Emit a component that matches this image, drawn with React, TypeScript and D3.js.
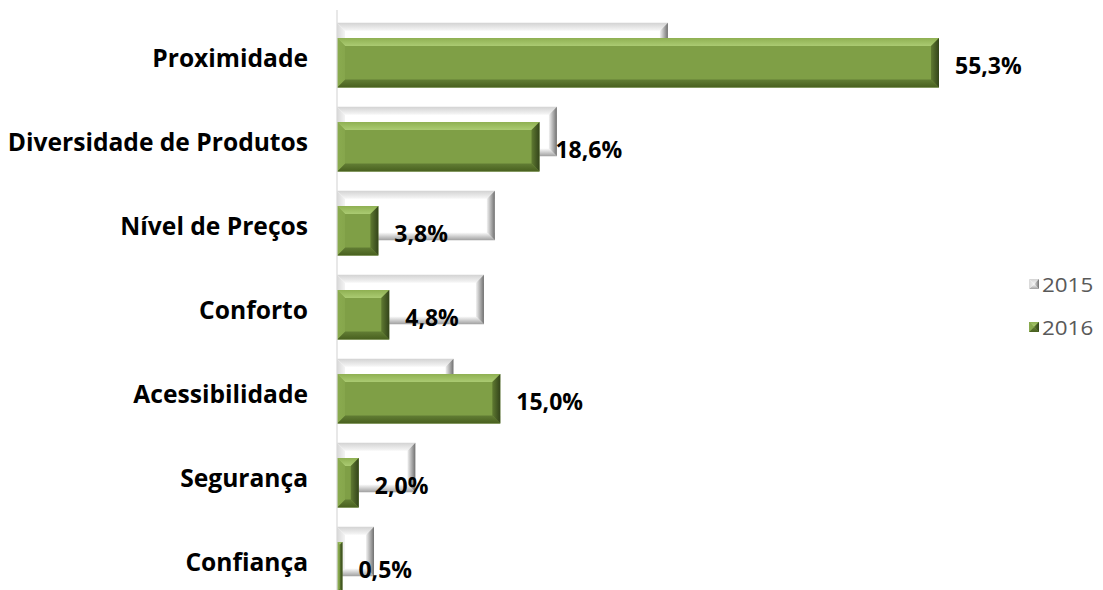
import React from 'react';
import * as d3 from 'd3';

const categories = [
  'Proximidade',
  'Diversidade de Produtos',
  'Nível de Preços',
  'Conforto',
  'Acessibilidade',
  'Segurança',
  'Confiança',
];
const values2015 = [30.4, 20.2, 14.5, 13.5, 10.7, 7.2, 3.4];
const values2016 = [55.3, 18.6, 3.8, 4.8, 15.0, 2.0, 0.5];
const seriesNames = ['2015', '2016'];

const W = 1103;
const H = 590;
const FONT = '"Open Sans", Carlito, Calibri, sans-serif';

const palettes = {
  white: {
    mid: '#ffffff',
    top: ['#d2d2d2', '#f7f7f7'],
    bottom: ['#ffffff', '#a0a0a0'],
    left: ['#d8d8d8', '#f4f4f4'],
    right: ['#f2f2f2', '#707070'],
  },
  green: {
    mid: '#7f9f46',
    top: ['#8fb052', '#abcb72'],
    bottom: ['#627d34', '#48601f'],
    left: ['#8aab4f', '#86a64c'],
    right: ['#5f7a31', '#33441a'],
  },
};

type Pal = typeof palettes.green;

function gradDefs(id: string, p: Pal) {
  return (
    <g key={id}>
      <linearGradient id={`${id}-top`} x1="0" y1="0" x2="0" y2="1">
        <stop offset="0" stopColor={p.top[0]} />
        <stop offset="1" stopColor={p.top[1]} />
      </linearGradient>
      <linearGradient id={`${id}-bottom`} x1="0" y1="0" x2="0" y2="1">
        <stop offset="0" stopColor={p.bottom[0]} />
        <stop offset="1" stopColor={p.bottom[1]} />
      </linearGradient>
      <linearGradient id={`${id}-left`} x1="0" y1="0" x2="1" y2="0">
        <stop offset="0" stopColor={p.left[0]} />
        <stop offset="1" stopColor={p.left[1]} />
      </linearGradient>
      <linearGradient id={`${id}-right`} x1="0" y1="0" x2="1" y2="0">
        <stop offset="0" stopColor={p.right[0]} />
        <stop offset="1" stopColor={p.right[1]} />
      </linearGradient>
    </g>
  );
}

function BevelBar({ x0, x1, y, h, id, pal, bevel = 8 }: any) {
  const w = x1 - x0;
  if (w <= 0) return null;
  const b = Math.min(bevel, w / 2, h / 2);
  const pts = (a: number[][]) => a.map((p) => p.join(',')).join(' ');
  return (
    <g>
      <rect x={x0} y={y} width={w} height={h} fill={pal.mid} />
      <polygon points={pts([[x0, y], [x1, y], [x1 - b, y + b], [x0 + b, y + b]])} fill={`url(#${id}-top)`} />
      <polygon points={pts([[x0, y + h], [x1, y + h], [x1 - b, y + h - b], [x0 + b, y + h - b]])} fill={`url(#${id}-bottom)`} />
      <polygon points={pts([[x0, y], [x0 + b, y + b], [x0 + b, y + h - b], [x0, y + h]])} fill={`url(#${id}-left)`} />
      <polygon points={pts([[x1, y], [x1 - b, y + b], [x1 - b, y + h - b], [x1, y + h]])} fill={`url(#${id}-right)`} />
    </g>
  );
}

const fmt = (v: number) => v.toFixed(1).replace('.', ',') + '%';

export default function App() {
  const x = d3.scaleLinear().domain([0, 55.3]).range([337, 939]);
  const y = d3.scaleBand<string>().domain(categories).range([13, 601]).padding(0);
  const bw = y.bandwidth();

  const whiteOff = 9.7;
  const greenOff = 25;
  const barH = 49.5;

  return (
    <svg width={W} height={H} style={{ position: 'absolute', left: 0, top: 0, background: '#fff' }}>
      <defs>
        {gradDefs('w', palettes.white)}
        {gradDefs('g', palettes.green)}
      </defs>

      {categories.map((c, i) => {
        const by = y(c)!;
        return (
          <g key={c}>
            <BevelBar x0={x(0)} x1={x(values2015[i])} y={by + whiteOff} h={barH} id="w" pal={palettes.white} />
            <BevelBar x0={x(0)} x1={x(values2016[i])} y={by + greenOff} h={barH} id="g" pal={palettes.green} />
          </g>
        );
      })}

      <line x1={x(0)} x2={x(0)} y1={10} y2={H} stroke="#d9d9d9" strokeWidth={1.2} />

      {categories.map((c) => (
        <text
          key={`l-${c}`}
          x={308}
          y={y(c)! + bw / 2 + 2}
          textAnchor="end"
          dominantBaseline="central"
          fontFamily={FONT}
          fontWeight="bold"
          fontSize={24.6}
          fill="#000"
        >
          {c}
        </text>
      ))}

      {categories.map((c, i) => (
        <text
          key={`v-${c}`}
          x={x(values2016[i]) + 16}
          y={y(c)! + greenOff + barH / 2 + 2}
          dominantBaseline="central"
          fontFamily={FONT}
          fontWeight="bold"
          fontSize={23}
          fill="#000"
        >
          {fmt(values2016[i])}
        </text>
      ))}

      {seriesNames.map((s, i) => {
        const ly = 284 + i * 43;
        return (
          <g key={s}>
            <BevelBar x0={1029} x1={1039} y={ly - 5} h={10} id={i === 0 ? 'w' : 'g'} pal={i === 0 ? palettes.white : palettes.green} bevel={5} />
            <text
              transform={`translate(1042,${ly}) scale(1.12,1)`}
              dominantBaseline="central"
              fontFamily={FONT}
              fontSize={20}
              fill="#595959"
            >
              {s}
            </text>
          </g>
        );
      })}
    </svg>
  );
}
